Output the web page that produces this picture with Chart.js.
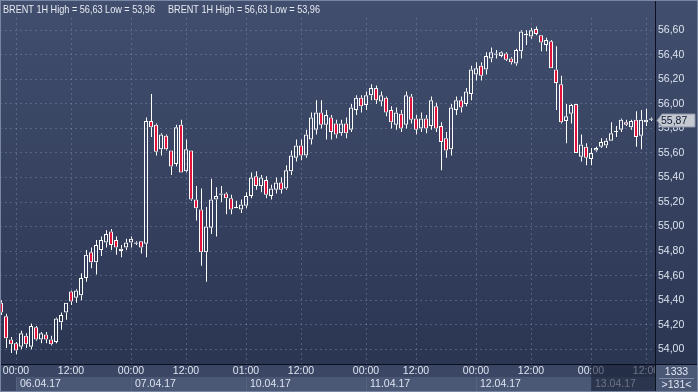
<!DOCTYPE html>
<html><head><meta charset="utf-8">
<script src="https://cdn.jsdelivr.net/npm/chart.js@4.4.1/dist/chart.umd.min.js"></script>
<style>html,body{margin:0;padding:0;background:#2e3956;overflow:hidden}#c{display:block}</style>
</head><body>
<canvas id="c" width="698" height="392"></canvas>
<script>
// ---- data (1H candles, BRENT) ----
const opens = [54.38,54.27,54.08,54.05,54.02,54.11,54.02,54.18,54.08,54.12,54.08,54.06,54.22,54.30,54.47,54.42,
54.44,54.58,54.79,54.71,54.81,54.87,54.96,54.89,54.80,54.83,54.87,54.86,54.88,54.86,55.86,55.83,55.63,55.74,55.62,55.51,
55.83,55.45,55.62,55.22,55.14,54.79,54.99,55.22,55.26,55.27,55.23,55.15,55.14,55.17,55.25,55.41,55.33,55.38,55.25,55.30,
55.36,55.31,55.45,55.56,55.66,55.58,55.71,55.79,55.93,55.83,55.89,55.84,55.76,55.84,55.79,55.95,56.05,55.99,56.07,56.13,
56.02,56.05,55.95,55.83,55.92,55.83,56.06,55.88,55.80,55.88,55.82,55.98,55.82,55.72,55.63,55.95,56.03,56.00,56.08,56.24,
56.31,56.28,56.37,56.40,56.39,56.41,56.37,56.33,56.43,56.56,56.55,56.61,56.56,56.48,56.51,56.28,56.16,55.86,55.92,56.00,
55.57,55.65,55.55,55.62,55.65,55.66,55.70,55.77,55.79,55.85,55.81,55.87,55.74,55.85,55.88];
const highs = [54.40,54.29,54.10,54.06,54.15,54.13,54.21,54.19,54.14,54.14,54.11,54.26,54.30,54.38,54.48,54.49,
54.62,54.81,54.83,54.89,54.92,54.97,54.98,54.92,54.85,54.90,54.92,54.88,54.88,55.89,56.08,55.84,55.76,55.75,55.62,55.83,
55.87,55.71,55.62,55.33,55.31,55.16,55.39,55.32,55.33,55.28,55.26,55.21,55.22,55.28,55.44,55.45,55.42,55.41,55.34,55.40,
55.40,55.50,55.62,55.71,55.71,55.79,55.93,56.03,56.03,55.95,55.91,55.87,55.87,55.89,56.00,56.07,56.07,56.10,56.16,56.15,
56.10,56.06,55.98,55.97,55.95,56.10,56.08,55.91,55.93,55.91,56.06,56.01,55.85,55.77,56.00,56.06,56.06,56.13,56.31,56.34,
56.34,56.42,56.46,56.44,56.43,56.42,56.38,56.45,56.60,56.60,56.62,56.63,56.56,56.54,56.52,56.47,56.23,56.00,56.00,56.00,
55.75,55.68,55.64,55.65,55.72,55.72,55.85,55.82,55.88,55.87,55.87,55.94,55.95,55.96,55.89];
const lows = [54.28,54.01,53.97,53.96,54.00,54.01,54.00,54.07,54.05,54.05,54.03,54.05,54.16,54.24,54.36,54.38,
54.40,54.55,54.66,54.61,54.76,54.83,54.81,54.77,54.75,54.81,54.83,54.85,54.78,54.75,55.73,55.58,55.58,55.62,55.42,55.49,
55.44,55.44,55.21,55.05,54.68,54.55,54.94,54.92,55.20,55.10,55.10,55.15,55.11,55.15,55.23,55.30,55.28,55.23,55.22,55.27,
55.27,55.30,55.42,55.53,55.54,55.56,55.67,55.75,55.80,55.71,55.71,55.72,55.74,55.72,55.77,55.91,55.93,55.95,56.03,56.00,
55.98,55.90,55.80,55.79,55.77,55.80,55.84,55.75,55.77,55.76,55.79,55.77,55.46,55.56,55.58,55.91,55.93,55.98,56.03,56.19,
56.19,56.24,56.34,56.37,56.38,56.35,56.32,56.31,56.37,56.48,56.53,56.56,56.43,56.43,56.29,55.95,55.84,55.68,55.84,55.60,
55.53,55.50,55.50,55.61,55.64,55.64,55.70,55.73,55.77,55.82,55.79,55.65,55.63,55.82,55.86];
const closes = [54.30,54.09,54.04,53.99,54.13,54.04,54.19,54.08,54.13,54.08,54.04,54.25,54.28,54.38,54.39,54.48,
54.58,54.77,54.71,54.85,54.89,54.94,54.85,54.83,54.82,54.87,54.90,54.87,54.83,55.86,55.81,55.61,55.75,55.63,55.49,55.81,
55.44,55.63,55.22,55.15,54.79,55.00,55.22,55.25,55.27,55.23,55.14,55.16,55.18,55.25,55.40,55.33,55.40,55.26,55.31,55.36,
55.30,55.46,55.58,55.66,55.58,55.75,55.89,55.93,55.83,55.91,55.77,55.75,55.84,55.76,55.97,56.05,55.98,56.07,56.13,56.03,
56.07,55.93,55.85,55.93,55.80,56.07,55.87,55.79,55.88,55.80,56.03,55.80,55.69,55.62,55.97,56.03,55.97,56.10,56.28,56.29,
56.23,56.39,56.42,56.41,56.42,56.36,56.34,56.44,56.59,56.57,56.60,56.57,56.50,56.52,56.29,56.17,55.85,55.90,55.99,55.60,
55.67,55.56,55.60,55.64,55.69,55.70,55.76,55.78,55.87,55.83,55.86,55.73,55.87,55.87,55.87];

const yTicks = [54.00,54.20,54.40,54.60,54.80,55.00,55.20,55.40,55.60,55.80,56.00,56.20,56.40,56.60];
const timeTickIdx = [3,14,26,37,49,60,73,83,95,106,118,129];
const timeTickLabels = ['00:00','12:00','00:00','12:00','01:00','12:00','00:00','12:00','00:00','12:00','00:00','12:00'];
const dayStartIdx = [3,26,49,73,95,118];
const dayLabels = ['06.04.17','07.04.17','10.04.17','11.04.17','12.04.17','13.04.17'];
const headerText = 'BRENT 1H High = 56,63 Low = 53,96';
const lastPrice = 55.87;
const cornerTop = '1333';
const cornerBottom = '>131<';

// ---- build datasets ----
const idx = opens.map((_, i) => i);
const bodyData = idx.map(i => ({x: i, y: [Math.min(opens[i], closes[i]), Math.max(opens[i], closes[i])]}));
const upperWick = idx.map(i => ({x: i, y: [Math.max(opens[i], closes[i]), highs[i]]}));
const lowerWick = idx.map(i => ({x: i, y: [lows[i], Math.min(opens[i], closes[i])]}));
const RED = '#e3123a';
const bodyColors = idx.map(i => closes[i] < opens[i] ? RED : 'rgba(0,0,0,0)');

const FONT = '"Liberation Sans Narrow", "Liberation Sans", Arial, sans-serif';
const FS = 10.5;
const gridColor = 'rgba(135,150,186,0.40)';
const fmt = v => v.toFixed(2).replace('.', ',');

const bgPlugin = {
  id: 'bg',
  beforeDraw(chart) {
    const {ctx, chartArea: ca, width, height, scales} = chart;
    ctx.save();
    const g = ctx.createLinearGradient(0, 0, 0, ca.bottom);
    g.addColorStop(0, '#414e6d');
    g.addColorStop(1, '#2b3653');
    ctx.fillStyle = g;
    ctx.fillRect(0, 0, width, ca.bottom);
    ctx.fillStyle = '#3a4664';
    ctx.fillRect(0, ca.bottom, width, height - ca.bottom);
    const xd = scales.xd;
    for (let k = 0; k < dayStartIdx.length; k++) {
      const x0 = Math.round(xd.getPixelForValue(dayStartIdx[k]));
      const x1 = k < dayStartIdx.length - 1 ? Math.round(xd.getPixelForValue(dayStartIdx[k + 1])) : ca.right;
      ctx.fillStyle = '#4a5775';
      ctx.fillRect(x0 + 1, xd.top, x1 - x0 - 1, xd.bottom - xd.top);
      ctx.fillStyle = '#56627f';
      ctx.fillRect(x0, xd.top, 1, xd.bottom - xd.top);
    }
    ctx.restore();
  }
};

const overlayPlugin = {
  id: 'overlay',
  afterDraw(chart) {
    const {ctx, chartArea: ca, width, height, scales} = chart;
    ctx.save();
    // current-day shade over the bottom axis rows
    const xs = Math.round(scales.x.getPixelForValue(dayStartIdx[dayStartIdx.length - 1]));
    ctx.fillStyle = 'rgba(22,30,50,0.58)';
    ctx.fillRect(xs, ca.bottom + 1, ca.right - xs, height - ca.bottom - 1);
    // corner box
    ctx.fillStyle = '#4a5775';
    ctx.fillRect(ca.right, ca.bottom, width - ca.right, height - ca.bottom);
    // separators
    ctx.fillStyle = '#0b1020';
    ctx.fillRect(0, ca.bottom, width, 1);
    ctx.fillRect(ca.right, 0, 1, height);
    ctx.fillStyle = '#7e8aa6';
    ctx.fillRect(ca.right + 4, ca.bottom + 14, width - ca.right - 8, 1);
    ctx.fillStyle = '#e2e8f2';
    ctx.font = FS + 'px ' + FONT;
    ctx.textAlign = 'center';
    ctx.textBaseline = 'alphabetic';
    const cx = (ca.right + width) / 2;
    ctx.fillText(cornerTop, cx, ca.bottom + 11);
    ctx.fillText(cornerBottom, cx, ca.bottom + 24);
    // last price marker
    const yc = Math.round(scales.y.getPixelForValue(lastPrice)) + 0.5;
    ctx.beginPath();
    ctx.moveTo(ca.right + 2, yc);
    ctx.lineTo(ca.right + 7, yc - 6.5);
    ctx.lineTo(width - 3, yc - 6.5);
    ctx.lineTo(width - 3, yc + 6.5);
    ctx.lineTo(ca.right + 7, yc + 6.5);
    ctx.closePath();
    ctx.fillStyle = '#c5c9d1';
    ctx.fill();
    ctx.strokeStyle = '#8a92a4';
    ctx.lineWidth = 1;
    ctx.stroke();
    ctx.fillStyle = '#101a33';
    ctx.textAlign = 'left';
    ctx.textBaseline = 'middle';
    ctx.fillText(fmt(lastPrice), ca.right + 6, yc + 0.5);
    // header
    ctx.font = '11px ' + FONT;
    ctx.fillStyle = '#e6eaf2';
    ctx.textBaseline = 'alphabetic';
    ctx.fillText(headerText, 3, 13, 152);
    ctx.fillText(headerText, 168, 13, 152);
    // outer border
    ctx.strokeStyle = '#7886a4';
    ctx.strokeRect(0.5, 0.5, width - 1, height - 1);
    ctx.restore();
  }
};

new Chart(document.getElementById('c'), {
  type: 'bar',
  data: {
    datasets: [
      {label: 'body', data: bodyData, xAxisID: 'x', yAxisID: 'y', backgroundColor: bodyColors,
       borderColor: '#ffffff', borderWidth: 1, borderSkipped: false, barThickness: 4, minBarLength: 1,
       inflateAmount: 0, grouped: false, order: 0},
      {label: 'upper', data: upperWick, xAxisID: 'xw', yAxisID: 'y', backgroundColor: '#ffffff',
       borderWidth: 0, barThickness: 1, inflateAmount: 0, grouped: false, order: 1},
      {label: 'lower', data: lowerWick, xAxisID: 'xw', yAxisID: 'y', backgroundColor: '#ffffff',
       borderWidth: 0, barThickness: 1, inflateAmount: 0, grouped: false, order: 1}
    ]
  },
  options: {
    responsive: false,
    animation: false,
    events: [],
    layout: {padding: {top: 18, left: 0, right: 0, bottom: 0}},
    plugins: {legend: {display: false}, tooltip: {enabled: false}, title: {display: false}},
    scales: {
      x: {
        type: 'linear', position: 'bottom', weight: 0, min: -0.2, max: 130.8, offset: false,
        afterBuildTicks: s => { s.ticks = timeTickIdx.map(v => ({value: v})); },
        afterFit: s => { s.height = 13; s.paddingLeft = 0; s.paddingRight = 0; },
        ticks: {autoSkip: false, maxRotation: 0, padding: 1, color: '#dce3ef',
                font: {family: FONT, size: FS},
                callback: v => timeTickLabels[timeTickIdx.indexOf(v)]},
        grid: {color: gridColor, drawTicks: false, lineWidth: 1, offset: false},
        border: {display: false, dash: [2, 3]}
      },
      xw: {
        type: 'linear', display: false, min: -0.3, max: 130.7, offset: false,
        grid: {offset: false}
      },
      xd: {
        type: 'linear', position: 'bottom', weight: 1, min: -0.2, max: 130.8, offset: false,
        afterBuildTicks: s => { s.ticks = dayStartIdx.map(v => ({value: v})); },
        afterFit: s => { s.height = 15; s.paddingLeft = 0; s.paddingRight = 0; },
        ticks: {autoSkip: false, maxRotation: 0, padding: 1, align: 'start', labelOffset: 4,
                color: '#dce3ef', font: {family: FONT, size: FS},
                callback: v => dayLabels[dayStartIdx.indexOf(v)]},
        grid: {display: false, drawTicks: false, offset: false},
        border: {display: false}
      },
      y: {
        type: 'linear', position: 'right', min: 53.88, max: 56.70,
        afterBuildTicks: s => { s.ticks = yTicks.map(v => ({value: v})); },
        afterFit: s => { s.width = 43; s.paddingTop = 0; s.paddingBottom = 0; },
        ticks: {padding: 3, color: '#dce3ef', font: {family: FONT, size: FS}, callback: v => fmt(v)},
        grid: {color: gridColor, drawTicks: false, lineWidth: 1},
        border: {display: false, dash: [2, 3]}
      }
    }
  },
  plugins: [bgPlugin, overlayPlugin]
});
</script>
</body></html>
